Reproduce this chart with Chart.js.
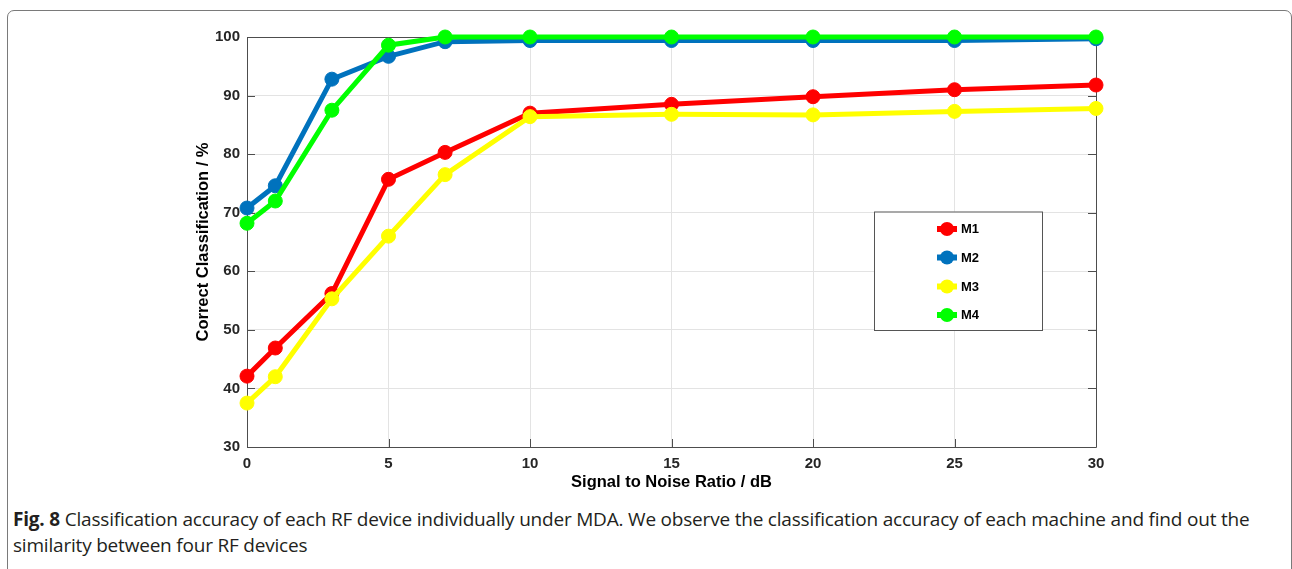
<!DOCTYPE html>
<html>
<head>
<meta charset="utf-8">
<script src="https://cdn.jsdelivr.net/npm/chart.js@4"></script>
<style>
  html, body { margin: 0; padding: 0; background: #fff; width: 1292px; height: 569px; overflow: hidden; }
  #frame { position: absolute; left: 7px; top: 10px; width: 1285px; height: 700px; box-sizing: border-box;
           border: 1.5px solid #7a7a7a; border-radius: 7px; }
  #wrap { position: absolute; left: 0; top: 0; width: 1292px; height: 500px; }
  #caption { position: absolute; left: 13px; top: 506px; font-family: "Open Sans", sans-serif; font-size: 19px;
             line-height: 26px; color: #231f20; white-space: nowrap; letter-spacing: -0.2px; }
  #caption b { font-weight: 700; }
</style>
</head>
<body>
<div id="frame"></div>
<div id="wrap"><canvas id="c" width="1292" height="500"></canvas></div>
<div id="caption"><b>Fig. 8</b> Classification accuracy of each RF device individually under MDA. We observe the classification accuracy of each machine and find out the<br>similarity between four RF devices</div>
<script>
// ---- data ----
const snr = [0, 1, 3, 5, 7, 10, 15, 20, 25, 30];
const m1 = [42.1, 46.9, 56.2, 75.7, 80.3, 87.0, 88.5, 89.8, 91.0, 91.8];
const m2 = [70.8, 74.6, 92.8, 96.7, 99.2, 99.4, 99.4, 99.4, 99.4, 99.7];
const m3 = [37.5, 42.0, 55.3, 66.0, 76.5, 86.4, 86.8, 86.7, 87.3, 87.8];
const m4 = [68.2, 72.0, 87.5, 98.6, 100, 100, 100, 100, 100, 100];
const seriesNames = ['M1', 'M2', 'M3', 'M4'];
const seriesColors = ['#ff0000', '#0072bd', '#ffff00', '#00ff00'];
const seriesValues = [m1, m2, m3, m4];
const xTitle = 'Signal to Noise Ratio / dB';
const yTitle = 'Correct Classification / %';

const datasets = seriesValues.map((vals, i) => ({
  label: seriesNames[i],
  data: snr.map((x, j) => ({ x: x, y: vals[j] })),
  borderColor: seriesColors[i],
  backgroundColor: seriesColors[i],
  pointBackgroundColor: seriesColors[i],
  pointBorderColor: seriesColors[i],
  borderWidth: 5,
  pointRadius: 7,
  pointBorderWidth: 1,
  tension: 0,
  clip: false,
  order: seriesNames.length - i
}));

const axisColor = '#4d4d4d';

const boxPlugin = {
  id: 'box',
  beforeDatasetsDraw(chart) {
    const { ctx, chartArea: a, scales } = chart;
    ctx.save();
    ctx.strokeStyle = axisColor;
    ctx.lineWidth = 1;
    const L = 8;
    ctx.beginPath();
    scales.x.ticks.forEach(t => {
      const px = Math.round(scales.x.getPixelForValue(t.value)) + 0.5;
      ctx.moveTo(px, a.bottom); ctx.lineTo(px, a.bottom - L);
      ctx.moveTo(px, a.top); ctx.lineTo(px, a.top + L);
    });
    scales.y.ticks.forEach(t => {
      const py = Math.round(scales.y.getPixelForValue(t.value)) + 0.5;
      ctx.moveTo(a.left, py); ctx.lineTo(a.left + L, py);
      ctx.moveTo(a.right, py); ctx.lineTo(a.right - L, py);
    });
    ctx.stroke();
    ctx.beginPath();
    ctx.rect(a.left + 0.5, a.top + 0.5, a.right - a.left, a.bottom - a.top);
    ctx.stroke();
    ctx.restore();
  },
  afterDraw(chart) {
    const { ctx } = chart;
    const bx = 874, by = 211.5, bw = 168, bh = 118.5;
    ctx.save();
    ctx.fillStyle = '#fff';
    ctx.fillRect(bx, by, bw, bh);
    ctx.strokeStyle = '#555';
    ctx.lineWidth = 1;
    ctx.strokeRect(bx + 0.5, by + 0.5, bw, bh);
    const rowY = [229, 257.5, 286.5, 315];
    chart.data.datasets.forEach((ds, i) => {
      const y = rowY[i];
      ctx.strokeStyle = ds.borderColor;
      ctx.lineWidth = 6;
      ctx.beginPath();
      ctx.moveTo(937, y); ctx.lineTo(957, y);
      ctx.stroke();
      ctx.fillStyle = ds.borderColor;
      ctx.beginPath();
      ctx.arc(947, y, 7, 0, Math.PI * 2);
      ctx.fill();
      ctx.fillStyle = '#000';
      ctx.font = 'bold 13px "Liberation Sans", Arial, sans-serif';
      ctx.textBaseline = 'middle';
      ctx.textAlign = 'left';
      ctx.fillText(ds.label, 961, y + 0.5);
    });
    ctx.restore();
  }
};

const tickFont = { family: '"Liberation Sans", Arial, sans-serif', size: 15, weight: 'bold' };
const titleFont = { family: '"Liberation Sans", Arial, sans-serif', size: 16.5, weight: 'bold' };

new Chart(document.getElementById('c'), {
  type: 'line',
  data: { datasets: datasets },
  plugins: [boxPlugin],
  options: {
    responsive: false,
    devicePixelRatio: 1,
    animation: false,
    layout: { padding: { left: 185, right: 196, top: 37, bottom: 0 } },
    plugins: { legend: { display: false }, tooltip: { enabled: false } },
    scales: {
      x: {
        type: 'linear', min: 0, max: 30,
        ticks: { stepSize: 5, color: '#262626', font: tickFont, padding: 8, maxRotation: 0 },
        grid: { color: '#e3e3e3', drawTicks: false },
        border: { display: false },
        title: { display: true, text: xTitle, color: '#000', font: titleFont, padding: { top: 0, bottom: 8 } },
        afterFit(s) { s.height = 53; }
      },
      y: {
        type: 'linear', min: 30, max: 100,
        ticks: { stepSize: 10, color: '#262626', font: tickFont, padding: 7 },
        grid: { color: '#e3e3e3', drawTicks: false },
        border: { display: false },
        title: { display: true, text: yTitle, color: '#000', font: titleFont, padding: { top: 9, bottom: 0 } },
        afterFit(s) { s.width = 62; }
      }
    }
  }
});
</script>
</body>
</html>
